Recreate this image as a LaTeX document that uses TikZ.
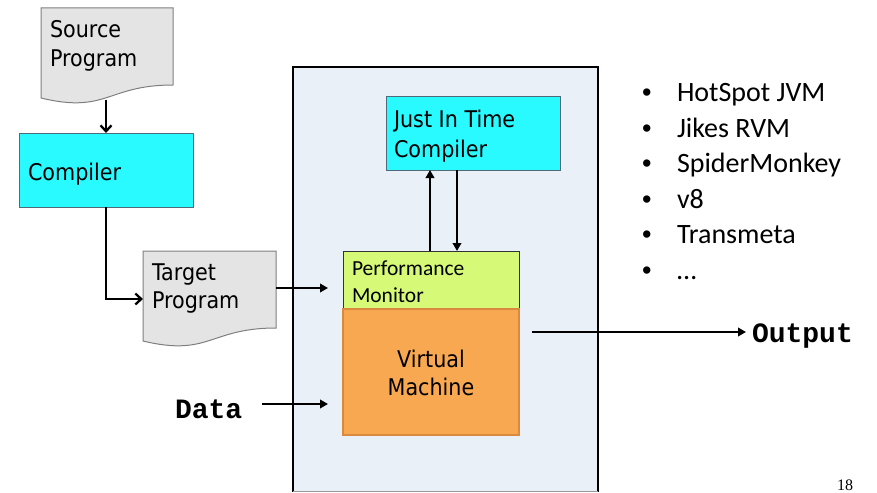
\documentclass[tikz,border=0pt]{standalone}
\usepackage{fontspec}
\setmainfont[FakeStretch=0.9]{DejaVu Sans}
\newfontfamily\calfont{Carlito}
\newfontfamily\monofont{Liberation Mono}
\newfontfamily\serfont{Liberation Serif}
\newfontfamily\bulfont{Liberation Sans}
\usetikzlibrary{arrows.meta}
\definecolor{docfill}{HTML}{E4E4E4}
\definecolor{docline}{HTML}{7F7F7F}
\definecolor{cyanfill}{HTML}{29FAFF}
\definecolor{cyanline}{HTML}{4F6A78}
\definecolor{pmfill}{HTML}{D6FA78}
\definecolor{vmfill}{HTML}{F9A852}
\definecolor{vmline}{HTML}{D98A3E}
\definecolor{bgfill}{HTML}{EAF0F8}
\tikzset{
  txt/.style={font=\fontsize{23}{29}\selectfont, anchor=base west, inner sep=0pt, outer sep=0pt},
  ctxt/.style={font=\fontsize{23}{29}\selectfont, anchor=base, inner sep=0pt, outer sep=0pt},
  pmtxt/.style={font=\calfont\fontsize{21.5}{26}\selectfont, anchor=base west, inner sep=0pt, outer sep=0pt},
  bultxt/.style={font=\calfont\fontsize{28}{34}\selectfont, anchor=base west, inner sep=0pt, outer sep=0pt},
  bulstyle/.style={font=\bulfont\fontsize{27}{34}\selectfont, anchor=base west, inner sep=0pt, outer sep=0pt},
  montxt/.style={font=\monofont\bfseries\fontsize{28}{34}\selectfont, anchor=base west, inner sep=0pt, outer sep=0pt},
  boxbase/.style={rectangle, anchor=north west, inner sep=0pt, outer sep=0pt, line width=1pt},
  cyanbox/.style={boxbase, draw=cyanline, fill=cyanfill},
  pmbox/.style={boxbase, draw=black!80, fill=pmfill},
  vmbox/.style={boxbase, draw=vmline, line width=1.5pt, fill=vmfill},
  docstyle/.style={draw=docline, fill=docfill, line width=1pt},
  openarr/.style={line width=2.3pt, -{Straight Barb[length=6pt, width=11pt, line width=2.3pt]}},
  triarr/.style={line width=2.3pt, -{Triangle[length=8pt, width=8.5pt]}},
}
\begin{document}
\begin{tikzpicture}[x=1pt, y=-1pt]
\useasboundingbox (0,0) rectangle (877,492);

% virtual machine enclosure
\fill[bgfill] (293,67) rectangle (598,492);
\draw[line width=2.6pt] (293,492) -- (293,67) -- (598,67) -- (598,492);
\draw[line width=0.8pt, black!40] (293,491.6) -- (598,491.6);

% source document
\draw[docstyle] (41,8) -- (173,8) -- (173,85) .. controls (107,85) and (107,114) .. (41,98) -- cycle;
\node[txt] (srct1) at (50,38) {Source};
\node[txt] (srct2) at (50,67) {Program};
\coordinate (srcb) at (106,100);

% compiler
\node[cyanbox, minimum width=174pt, minimum height=74pt] (comp) at (19,133) {};
\node[txt] (compt) at (28,180) {Compiler};

% target document
\draw[docstyle] (143,251) -- (276,251) -- (276,328) .. controls (209.5,328) and (209.5,357) .. (143,341) -- cycle;
\node[txt] (tgtt1) at (152,280) {Target};
\node[txt] (tgtt2) at (152,308) {Program};
\coordinate (tgtin) at (143,299);
\coordinate (tgtout) at (276,288);
\coordinate (pmin) at (328,288);

% JIT
\node[cyanbox, minimum width=174pt, minimum height=73pt] (jit) at (386,97) {};
\node[txt] (jitt1) at (394,128) {Just In Time};
\node[txt] (jitt2) at (394,157) {Compiler};

% performance monitor
\node[pmbox, minimum width=176pt, minimum height=58pt] (pm) at (343,251) {};
\node[pmtxt] (pmt1) at (352,275) {Performance};
\node[pmtxt] (pmt2) at (352,302) {Monitor};

% virtual machine
\node[vmbox, minimum width=176pt, minimum height=126pt] (vm) at (343,309) {};
\node[ctxt] (vmt1) at (431,367) {Virtual};
\node[ctxt] (vmt2) at (431,395) {Machine};

% data and output
\node[montxt] (data) at (175,418) {Data};
\coordinate (datal) at (262,404);
\coordinate (datar) at (328,404);
\node[montxt] (out) at (752,342) {Output};
\coordinate (outl) at (532,332);
\coordinate (outr) at (746,332);

\coordinate (upx) at (430,0);
\coordinate (dnx) at (457,0);

% connectors
\draw[openarr] (srcb) -- (comp.north);
\draw[openarr] (comp.south) |- (tgtin);
\draw[triarr] (tgtout) -- (pmin);
\draw[triarr] (pm.north -| upx) -- (jit.south -| upx);
\draw[triarr] (jit.south -| dnx) -- (pm.north -| dnx);
\draw[triarr] (datal) -- (datar);
\draw[triarr] (outl) -- (outr);

% bullet list
\foreach \i/\t in {0/HotSpot JVM, 1/Jikes RVM, 2/SpiderMonkey, 3/v8, 4/Transmeta, 5/…}{
  \node[bulstyle] (b\i) at (642,{102+35.4*\i}) {•};
  \node[bultxt] (l\i) at (677,{102+35.4*\i}) {\t};
}

\node[font=\serfont\fontsize{16}{18}\selectfont, anchor=base west, inner sep=0pt] (pg) at (837,490) {18};
\end{tikzpicture}
\end{document}
